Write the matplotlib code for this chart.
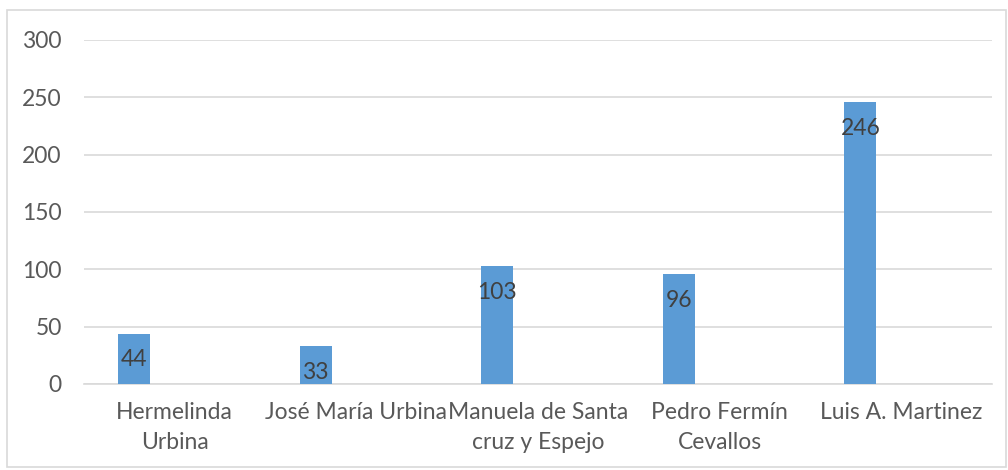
import matplotlib.pyplot as plt
from matplotlib.patches import Rectangle
import numpy as np

# --- data ---
categories = ["Hermelinda\nUrbina", "José María Urbina", "Manuela de Santa\ncruz y Espejo",
              "Pedro Fermín\nCevallos", "Luis A. Martinez"]
values = [44, 33, 103, 96, 246]
yticks = [0, 50, 100, 150, 200, 250, 300]

plt.rcParams['font.family'] = ['Lato', 'DejaVu Sans']

fig = plt.figure(figsize=(10.08, 4.70), dpi=100)
ax = fig.add_axes([84 / 1008, 1 - 384 / 470, 908 / 1008, 344 / 470])

# outer chart border
fig.patches.append(Rectangle((7 / 1008, 3 / 470), 999 / 1008, 457 / 470,
                             transform=fig.transFigure, fill=False,
                             edgecolor='#d9d9d9', linewidth=1.2))

x = np.arange(len(categories))
bars = ax.bar(x - 0.225, values, width=0.176, color='#5b9bd5', zorder=3)

for xi, v in zip(x, values):
    ax.annotate(str(v), (xi - 0.225, v), xytext=(0, -19), textcoords='offset points',
                ha='center', va='center', fontsize=16.5, color='#404040', zorder=4)

ax.set_xlim(-0.5, len(categories) - 0.5)
ax.set_ylim(0, 300)
ax.set_yticks(yticks)
ax.set_xticks(x)
ax.set_xticklabels(categories, linespacing=1.5)
ax.yaxis.grid(True, color='#d9d9d9', linewidth=1.2, zorder=0)
ax.tick_params(axis='both', length=0, labelsize=16.5, labelcolor='#595959')
ax.tick_params(axis='x', pad=13)
ax.tick_params(axis='y', pad=16)
for side in ['top', 'right', 'left']:
    ax.spines[side].set_visible(False)
ax.spines['bottom'].set_color('#d9d9d9')
ax.spines['bottom'].set_linewidth(1.2)

fig.savefig('out.png', dpi=100)
